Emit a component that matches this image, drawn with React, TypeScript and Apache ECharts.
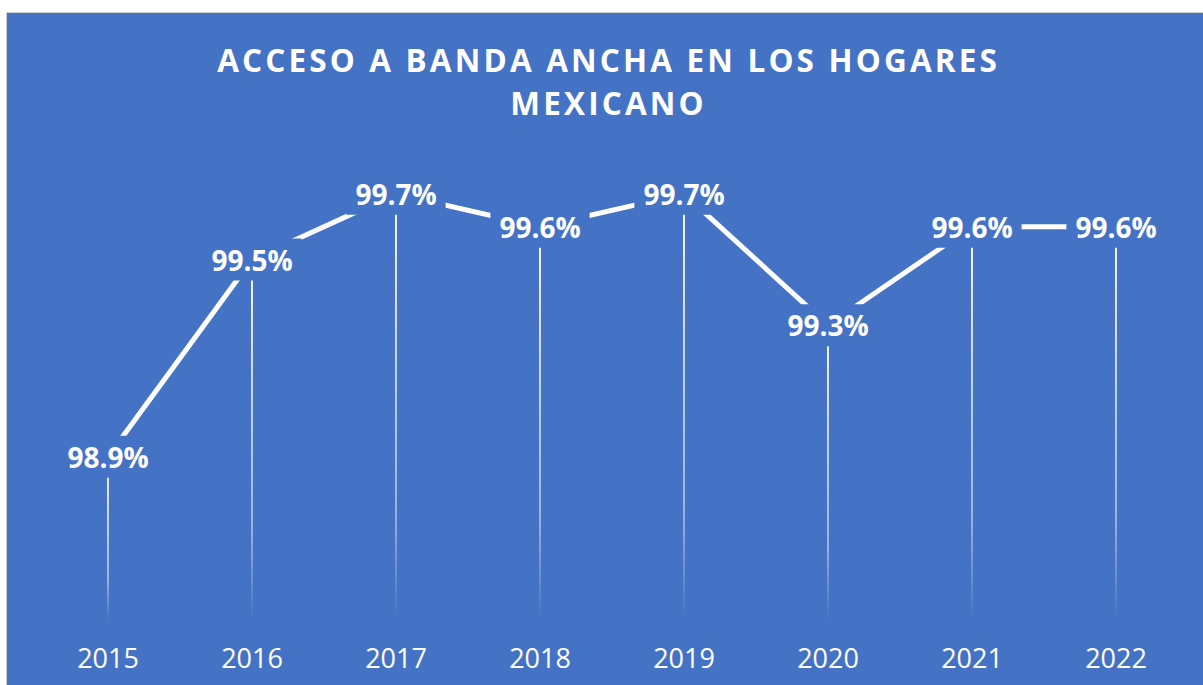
import React, { useEffect, useRef } from "react";
import * as echarts from "echarts";

const years = ["2015", "2016", "2017", "2018", "2019", "2020", "2021", "2022"];
const access = [98.9, 99.5, 99.7, 99.6, 99.7, 99.3, 99.6, 99.6];
const titleLines = ["ACCESO A BANDA ANCHA EN LOS HOGARES", "MEXICANO"];

const BG = "#4472C4";
const spaced = (s: string) => s.split("").join("\u200A");

export default function App() {
  const ref = useRef<HTMLDivElement>(null);
  useEffect(() => {
    if (!ref.current) return;
    const chart = echarts.init(ref.current, null, { renderer: "svg" });
    chart.setOption({
      animation: false,
      backgroundColor: BG,
      title: {
        text: titleLines.map(spaced).join("\n"),
        left: "center",
        top: 20,
        textStyle: {
          color: "#ffffff",
          fontFamily: "Open Sans",
          fontWeight: "bold",
          fontSize: 31.5,
          lineHeight: 43,
        },
      },
      grid: { left: 29, top: 148, width: 1152, height: 460 },
      xAxis: {
        type: "category",
        data: years,
        axisLine: { show: false },
        axisTick: { show: false },
        axisLabel: {
          color: "#ffffff",
          fontFamily: "Open Sans",
          fontSize: 27,
          margin: 23,
        },
      },
      yAxis: {
        type: "value",
        min: 98.4,
        max: 99.8,
        show: false,
        splitLine: { show: false },
      },
      series: [
        {
          type: "bar",
          data: access,
          barWidth: 2,
          z: 1,
          itemStyle: {
            color: new echarts.graphic.LinearGradient(0, 0, 0, 1, [
              { offset: 0, color: "rgba(255,255,255,0.95)" },
              { offset: 0.75, color: "rgba(255,255,255,0.45)" },
              { offset: 1, color: "rgba(255,255,255,0)" },
            ]),
          },
        },
        {
          type: "line",
          data: access,
          z: 3,
          symbol: "circle",
          symbolSize: 2,
          showSymbol: true,
          itemStyle: { color: "rgba(255,255,255,0)" },
          lineStyle: { color: "#ffffff", width: 5 },
          label: {
            show: true,
            position: "inside",
            formatter: (p: any) => Number(p.value).toFixed(1) + "%",
            color: "#ffffff",
            fontFamily: "Open Sans",
            fontWeight: "bold",
            fontSize: 28,
            lineHeight: 30,
            backgroundColor: BG,
            padding: [6, 9],
          },
        },
      ],
    });
    return () => chart.dispose();
  }, []);
  return (
    <div
      ref={ref}
      style={{
        position: "absolute",
        left: 6,
        top: 12,
        width: 1200,
        height: 680,
        border: "1px solid #d0d0d0",
      }}
    />
  );
}
